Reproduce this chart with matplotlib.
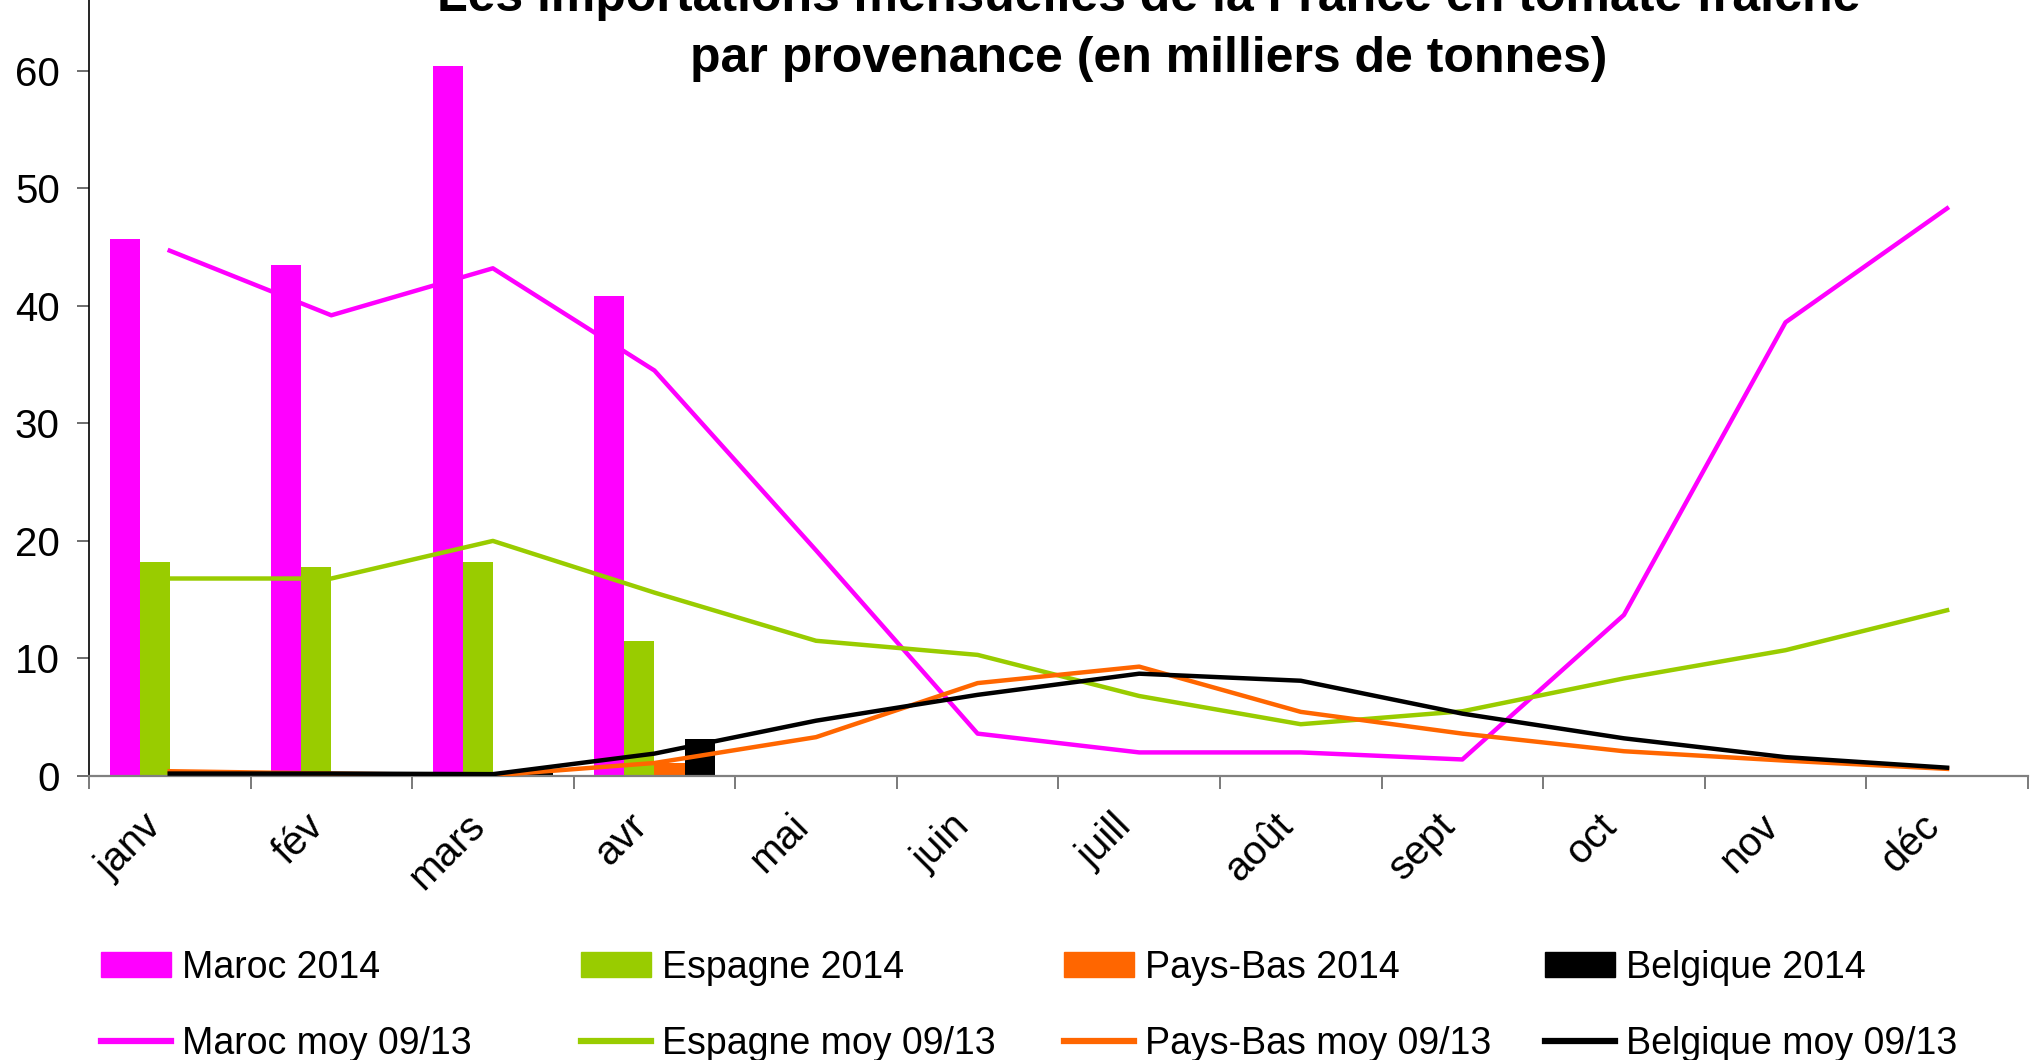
import numpy as np
import matplotlib
matplotlib.use('Agg')
import matplotlib.pyplot as plt
from matplotlib.patches import Patch
from matplotlib.lines import Line2D

plt.rcParams['font.family'] = ['Liberation Sans', 'DejaVu Sans']

# Months
months = ['janv', 'fév', 'mars', 'avr', 'mai', 'juin', 'juill', 'août',
          'sept', 'oct', 'nov', 'déc']

# 2014 imports (bars, only Jan-Apr available)
maroc_2014 = [45.7, 43.5, 60.4, 40.8]
espagne_2014 = [18.2, 17.8, 18.2, 11.5]
paysbas_2014 = [0.0, 0.0, 0.0, 1.1]
belgique_2014 = [0.0, 0.0, 0.35, 3.1]

# 2009-2013 average (lines)
maroc_moy = [44.7, 39.2, 43.2, 34.5, 19.2, 3.6, 2.0, 2.0, 1.4, 13.7, 38.6, 48.3]
espagne_moy = [16.8, 16.8, 20.0, 15.6, 11.5, 10.3, 6.8, 4.4, 5.5, 8.3, 10.7, 14.1]
paysbas_moy = [0.4, 0.2, 0.05, 1.1, 3.3, 7.9, 9.3, 5.45, 3.6, 2.1, 1.3, 0.6]
belgique_moy = [0.2, 0.2, 0.15, 1.9, 4.7, 6.9, 8.7, 8.1, 5.3, 3.2, 1.6, 0.7]

names = ['Maroc', 'Espagne', 'Pays-Bas', 'Belgique']
colors = ['#FF00FF', '#99CC00', '#FF6600', '#000000']
bars_2014 = [maroc_2014, espagne_2014, paysbas_2014, belgique_2014]
lines_moy = [maroc_moy, espagne_moy, paysbas_moy, belgique_moy]

fig = plt.figure(figsize=(20.35, 10.6), dpi=100)
ax = fig.add_axes([0.0437, 0.268, 0.9528, 0.776])

bw = 0.186
x_bar = np.arange(4)
for k in range(4):
    ax.bar(x_bar + (k - 1.5) * bw, bars_2014[k], width=bw, color=colors[k], zorder=2)

x_line = np.arange(12)
for k in range(4):
    ax.plot(x_line, lines_moy[k], color=colors[k], lw=3.2, zorder=3)

ax.set_xlim(-0.5, 11.5)
ax.set_ylim(0, 70)
ax.set_yticks(range(0, 70, 10))
ax.tick_params(axis='y', labelsize=29, length=9, width=1.2, color='#555555', pad=12)

ax.set_xticks(x_line)
ax.set_xticklabels(months, rotation=45, ha='right', fontsize=29)
ax.tick_params(axis='x', which='major', length=0, pad=22)
ax.set_xticks(np.arange(-0.5, 12, 1), minor=True)
ax.tick_params(axis='x', which='minor', length=9.5, width=1.3, color='#707070',
               direction='out')

for s in ['top', 'right']:
    ax.spines[s].set_visible(False)
ax.spines['bottom'].set_color('#808080')
ax.spines['bottom'].set_linewidth(1.6)
ax.spines['left'].set_color('black')
ax.spines['left'].set_linewidth(1.2)

# Title (partly cut at the top of the picture)
fig.text(0.5646, 0.9896, 'Les importations mensuelles de la France en tomate fraîche',
         ha='center', va='baseline', fontsize=36, fontweight='bold')
fig.text(0.5646, 0.9320, 'par provenance (en milliers de tonnes)',
         ha='center', va='baseline', fontsize=36, fontweight='bold')

# Legend: one column per country
col_x = [101, 581, 1064, 1545]
for k in range(4):
    handles = [Patch(color=colors[k]),
               Line2D([0], [0], color=colors[k], lw=4.5)]
    labels = [names[k] + ' 2014', names[k] + ' moy 09/13']
    fig.legend(handles, labels, loc='center left',
               bbox_to_anchor=(col_x[k] / 2035, 1 - 1006 / 1060),
               frameon=False, fontsize=27, borderpad=0, borderaxespad=0,
               handlelength=1.87, handleheight=0.66, handletextpad=0.3,
               labelspacing=1.08)

fig.savefig('out.png', dpi=100)
